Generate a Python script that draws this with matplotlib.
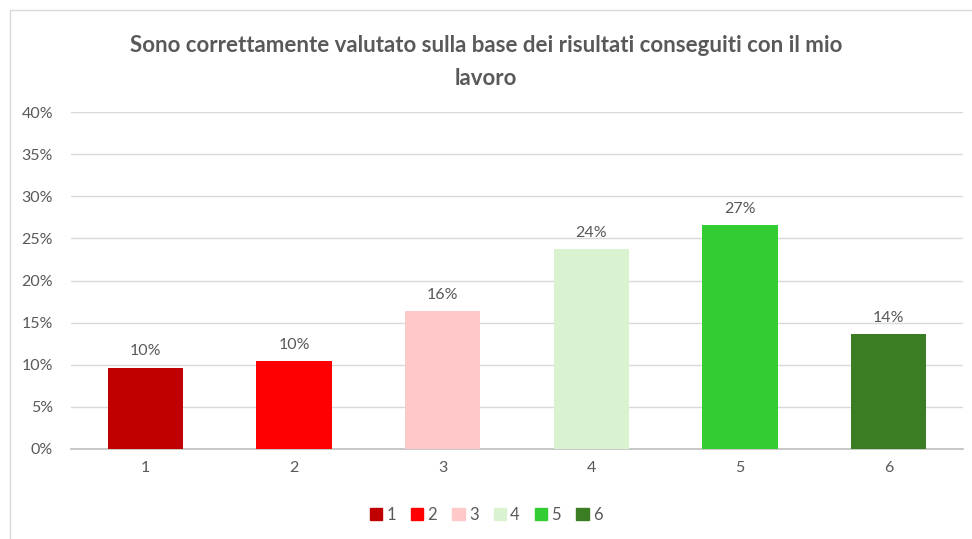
import matplotlib
matplotlib.use("Agg")
import matplotlib.pyplot as plt
from matplotlib.patches import Rectangle
from matplotlib.ticker import PercentFormatter

# Values
categories = ["1", "2", "3", "4", "5", "6"]
values = [9.65, 10.4, 16.4, 23.7, 26.6, 13.65]
labels = ["10%", "10%", "16%", "24%", "27%", "14%"]
colors = ["#C00000", "#FF0000", "#FFC9C9", "#D9F2D0", "#33CC33", "#3A7D22"]
title = "Sono correttamente valutato sulla base dei risultati conseguiti con il mio\nlavoro"

TEXT = "#595959"
plt.rcParams["font.family"] = ["Lato", "DejaVu Sans"]

fig = plt.figure(figsize=(9.72, 5.39), dpi=100)
fig.patches.append(Rectangle((10 / 972, -0.1), 1.2, 1 - 10 / 539 + 0.1,
                             transform=fig.transFigure, fill=False,
                             edgecolor="#D9D9D9", linewidth=1.0))

ax = fig.add_axes([71 / 972, 1 - 449 / 539, (963 - 71) / 972, (449 - 112) / 539])
x = range(len(categories))
bars = ax.bar(x, values, width=0.505, color=colors, zorder=3)

for xi, v, lab in zip(x, values, labels):
    ax.text(xi, v + 1.1, lab, ha="center", va="bottom", fontsize=11.5, color=TEXT)

ax.set_ylim(0, 40)
ax.set_xlim(-0.5, len(categories) - 0.5)
ax.set_yticks(range(0, 41, 5))
ax.yaxis.set_major_formatter(PercentFormatter(decimals=0))
ax.set_xticks(list(x))
ax.set_xticklabels(categories)
ax.tick_params(axis="both", length=0, colors=TEXT, labelsize=11.5)
ax.tick_params(axis="y", pad=13)
ax.tick_params(axis="x", pad=9)
ax.grid(axis="y", color="#D9D9D9", linewidth=1.0, zorder=0)
for side in ["top", "right", "left"]:
    ax.spines[side].set_visible(False)
ax.spines["bottom"].set_color("#BFBFBF")
ax.spines["bottom"].set_linewidth(1.2)

fig.text(0.5, 1 - 62 / 539, title, ha="center", va="center", fontsize=16,
         fontweight="bold", color=TEXT, linespacing=1.65)

handles = [Rectangle((0, 0), 1, 1, color=c) for c in colors]
fig.legend(handles, categories, loc="center", bbox_to_anchor=(0.5, 1 - 515 / 539),
           ncol=6, frameon=False, fontsize=12, labelcolor=TEXT,
           handlelength=0.75, handleheight=0.75, handletextpad=0.25, columnspacing=0.9)

plt.savefig("out.png", dpi=100)
plt.close()
